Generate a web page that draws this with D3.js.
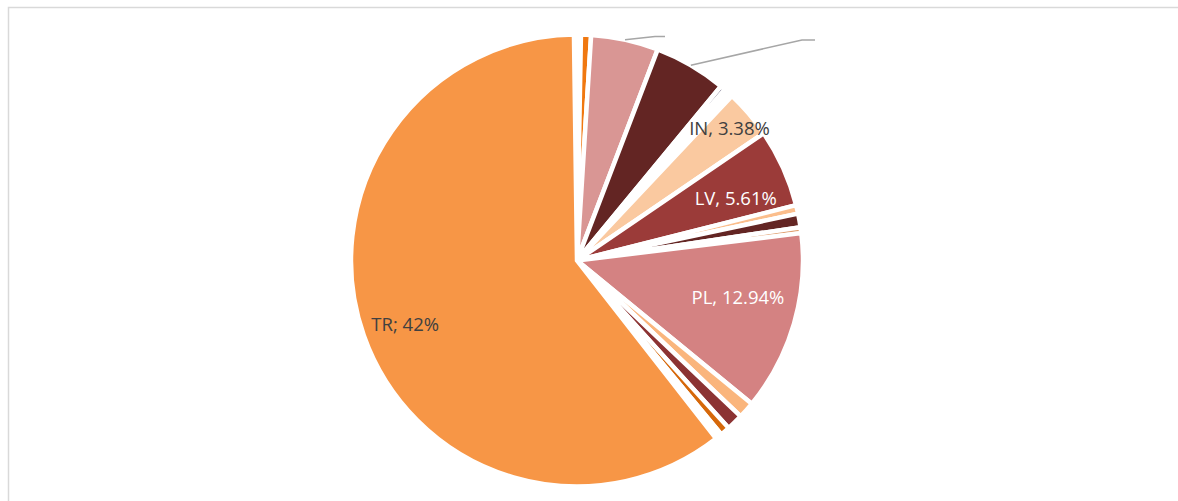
<!DOCTYPE html>
<html>
<head>
<meta charset="utf-8">
<script src="https://cdn.jsdelivr.net/npm/d3@7"></script>
<style>
  html, body { margin: 0; padding: 0; background: #ffffff; }
  svg { display: block; }
</style>
</head>
<body>
<svg id="chart" width="1178" height="501"></svg>
<script>
// ---- data (clockwise from 12 o'clock) ----
const categories = ["blank1", "s1", "s2", "s3", "s4", "blank2", "IN", "LV", "s5", "s6", "s7", "PL", "s8", "s9", "s10", "blank3", "TR"];
const values     = [0.49, 0.72, 4.81, 5.17, 0.36, 0.67, 3.45, 5.58, 0.61, 0.97, 0.42, 12.85, 1.18, 1.18, 0.68, 0.47, 60.26];
const colors     = ["#ffffff", "#f07810", "#d99694", "#632523", "#55506e", "#ffffff", "#fac9a0", "#9b3b39", "#fbbe8c", "#632523", "#e0a070", "#d48282", "#fab57c", "#8c3333", "#d6680a", "#ffffff", "#f79646"];
const labelTexts = {"IN": "IN, 3.38%", "LV": "LV, 5.61%", "PL": "PL, 12.94%", "TR": "TR; 42%"};
const labelColors = {"IN": "#404040", "LV": "#ffffff", "PL": "#ffffff", "TR": "#404040"};
const leaderTargets = {"s2": [[655, 36.5], [665, 36.5]], "s3": [[802, 40], [815, 40]]};

// ---- layout ----
const W = 1178, H = 501;
const cx = 577, cy = 260.5, R = 226;
const startDeg = -0.77;
const labelRadiusFrac = {"IN": 0.894, "LV": 0.756, "PL": 0.73, "TR": 0.81};
const labelAngleShift = {"IN": -0.5, "LV": 2.5, "PL": -3.5, "TR": -0.8};

const svg = d3.select("#chart");

// chart border (clipped at right/bottom like the reference)
svg.append("path")
  .attr("d", `M8.5,${H} L8.5,7.5 L${W},7.5`)
  .attr("fill", "none")
  .attr("stroke", "#d9d9d9")
  .attr("stroke-width", 1.5);

const data = categories.map((c, i) => ({cat: c, value: values[i], color: colors[i]}));

const s0 = startDeg * Math.PI / 180;
const pie = d3.pie().sort(null).value(d => d.value)
  .startAngle(s0).endAngle(s0 + 2 * Math.PI);
const arcs = pie(data);

const arc = d3.arc().innerRadius(0).outerRadius(R);

const g = svg.append("g").attr("transform", `translate(${cx},${cy})`);

g.selectAll("path.slice")
  .data(arcs)
  .join("path")
  .attr("class", "slice")
  .attr("d", arc)
  .attr("fill", d => d.data.color)
  .attr("stroke", "#ffffff")
  .attr("stroke-width", 4.5)
  .attr("stroke-linejoin", "miter");

// leader lines
arcs.filter(d => leaderTargets[d.data.cat]).forEach(d => {
  const a = (d.startAngle + d.endAngle) / 2;
  const p0 = [cx + R * Math.sin(a), cy - R * Math.cos(a)];
  const pts = [p0].concat(leaderTargets[d.data.cat]);
  svg.append("path")
    .attr("d", d3.line()(pts))
    .attr("fill", "none")
    .attr("stroke", "#a6a6a6")
    .attr("stroke-width", 1.5);
});

// data labels
arcs.filter(d => labelTexts[d.data.cat]).forEach(d => {
  const a = (d.startAngle + d.endAngle) / 2 + labelAngleShift[d.data.cat] * Math.PI / 180;
  const lr = R * labelRadiusFrac[d.data.cat];
  g.append("text")
    .attr("x", lr * Math.sin(a))
    .attr("y", -lr * Math.cos(a))
    .attr("text-anchor", "middle")
    .attr("dominant-baseline", "central")
    .attr("font-family", "'Open Sans', sans-serif")
    .attr("font-size", 18.5)
    .attr("fill", labelColors[d.data.cat])
    .text(labelTexts[d.data.cat]);
});
</script>
</body>
</html>
